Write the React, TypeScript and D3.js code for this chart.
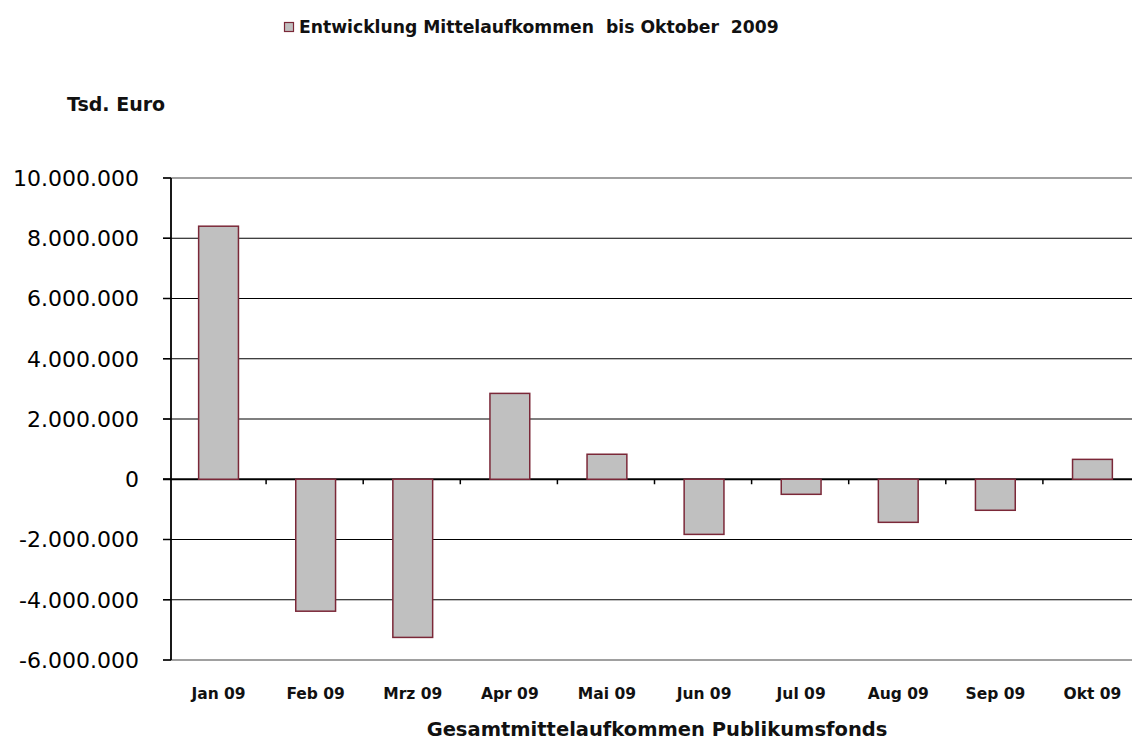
import React from "react";
import * as d3 from "d3";

const months = ["Jan 09", "Feb 09", "Mrz 09", "Apr 09", "Mai 09", "Jun 09", "Jul 09", "Aug 09", "Sep 09", "Okt 09"];
const values = [8400000, -4380000, -5250000, 2850000, 830000, -1830000, -500000, -1430000, -1030000, 660000];
const yTicks = [-6000000, -4000000, -2000000, 0, 2000000, 4000000, 6000000, 8000000, 10000000];

const legendLabel = "Entwicklung Mittelaufkommen  bis Oktober  2009";
const unitLabel = "Tsd. Euro";
const xTitle = "Gesamtmittelaufkommen Publikumsfonds";

const fmt = (v: number) => d3.format(",")(v).replace(/,/g, ".").replace("−", "-");

export default function App() {
  const width = 1132;
  const height = 744;
  const left = 171;
  const right = 1141;
  const top = 178;
  const bottom = 660;

  const x = d3.scaleBand<string>().domain(months).range([left - 1, right]).paddingInner(0.59).paddingOuter(0.295);
  const y = d3.scaleLinear().domain([-6000000, 10000000]).range([bottom, top]);
  const step = (right - left + 1) / months.length;

  return (
    <svg width={width} height={height} style={{ position: "absolute", left: 0, top: 0, background: "#fff" }} fontFamily="DejaVu Sans, Verdana, sans-serif">
      {/* legend */}
      <rect x={284.5} y={22.5} width={9} height={9} fill="#c0c0c0" stroke="#7b2838" strokeWidth={1.2} />
      <text x={299} y={33} fontSize={17.2} fontWeight="bold" fill="#111" style={{ whiteSpace: "pre" }}>{legendLabel}</text>
      <text x={67} y={111} fontSize={19} fontWeight="bold" fill="#111">{unitLabel}</text>

      {/* gridlines */}
      {yTicks.map((t) => (
        <g key={t}>
          <line x1={left - 8} x2={width} y1={y(t)} y2={y(t)}
            stroke={t === 10000000 || t === -6000000 ? "#808080" : "#000"}
            strokeWidth={t === 0 ? 2.2 : t === 10000000 || t === -6000000 ? 1.5 : 1.2} />
          <line x1={left - 8} x2={left} y1={y(t)} y2={y(t)} stroke="#000" strokeWidth={1.5} />
          <text x={139} y={y(t)} dy="0.36em" textAnchor="end" fontSize={22} fill="#000">{fmt(t)}</text>
        </g>
      ))}

      {/* bars */}
      {months.map((m, i) => {
        const v = values[i];
        const y0 = y(Math.max(0, v));
        const y1 = y(Math.min(0, v));
        return (
          <rect key={m} x={x(m)} y={y0} width={x.bandwidth()} height={y1 - y0}
            fill="#c0c0c0" stroke="#7b2838" strokeWidth={1.5} />
        );
      })}

      {/* category ticks on zero line */}
      {months.slice(1).map((m, i) => {
        const tx = left + step * (i + 1) - 2;
        return <line key={m} x1={tx} x2={tx} y1={y(0)} y2={y(0) + 5} stroke="#000" strokeWidth={1.5} />;
      })}

      {/* y axis line */}
      <line x1={left} x2={left} y1={top} y2={bottom} stroke="#000" strokeWidth={1.8} />

      {/* category labels */}
      {months.map((m) => (
        <text key={m} x={(x(m) as number) + x.bandwidth() / 2} y={699} textAnchor="middle" fontSize={15.5} fontWeight="bold" fill="#111">{m}</text>
      ))}

      <text x={657} y={736} textAnchor="middle" fontSize={19.5} fontWeight="bold" fill="#111">{xTitle}</text>
    </svg>
  );
}
